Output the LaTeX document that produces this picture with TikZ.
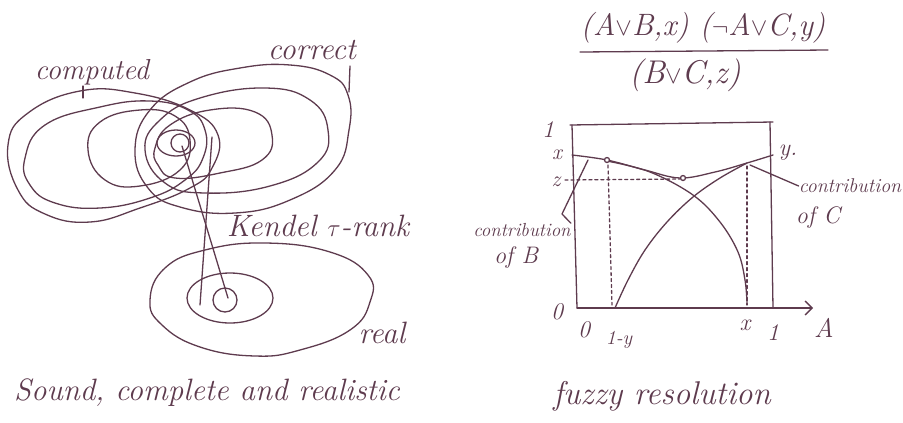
\documentclass[tikz,border=0pt]{standalone}
\usepackage{fontspec}
\usepackage{tikz}
\usetikzlibrary{calc,positioning,arrows.meta}
\definecolor{inkbrown}{HTML}{5E3B4E}

\tikzset{
  pen/.style={draw=inkbrown, line width=1.3bp, line cap=round, line join=round},
  hand/.style={text=inkbrown, inner sep=0pt, font=\itshape\fontsize{#1}{#1}\selectfont},
  hand/.default=22,
  blob/.style={pen, smooth cycle, tension=0.75},
}

\begin{document}
\begin{tikzpicture}[x=1bp, y=-1bp]
  \useasboundingbox (0,0) rectangle (903,422);

  % left sketch: computed / correct / real
  \draw[blob] plot coordinates {(8,145) (28,113) (80,91) (135,93) (190,110) (218,135)
    (212,168) (190,188) (140,208) (90,222) (45,214) (18,190)};
  \draw[blob] plot coordinates {(25,158) (45,125) (100,107) (150,101) (188,110) (205,130)
    (203,158) (185,180) (150,198) (100,208) (55,203) (30,185)};
  \draw[blob] plot coordinates {(88,150) (100,122) (140,110) (175,116) (190,140)
    (180,170) (140,186) (105,180)};
  \draw[blob] plot coordinates {(135,150) (150,110) (190,82) (240,68) (290,65) (330,75)
    (348,95) (349,130) (335,170) (290,200) (235,213) (180,207) (148,188)};
  \draw[blob] plot coordinates {(145,150) (160,120) (200,98) (265,88) (310,100) (328,130)
    (318,162) (270,186) (205,193) (165,183)};
  \draw[blob] plot coordinates {(155,148) (170,125) (210,110) (255,112) (272,135)
    (262,160) (220,173) (175,178) (158,165)};
  \draw[pen] (176,143) ellipse [x radius=19, y radius=13];
  \draw[pen] (180,143) circle [radius=9];

  \draw[blob] plot coordinates {(150,300) (165,268) (205,250) (265,243) (330,252) (368,275)
    (370,302) (350,330) (300,350) (255,356) (200,347) (162,325)};
  \draw[pen] (230,298) ellipse [x radius=43, y radius=25];
  \draw[pen] (225,300) circle [radius=12];

  \coordinate (topA) at (182,146);
  \coordinate (topB) at (212,137);
  \coordinate (realA) at (228,298);
  \coordinate (realB) at (200,305);
  \draw[pen] (topA) -- (realA);
  \draw[pen] (topB) -- (realB);

  \node[hand=29] (computed) at (92,72) {computed};
  \draw[pen] (83,86) -- (83,98);
  \node[hand=31] (correct) at (312,50) {correct};
  \draw[pen] (350,66) -- (349,92);
  \node[hand=31] (kendel) at (318,226) {Kendel $\tau$-rank};
  \node[hand=31] (real) at (382,333) {real};
  \node[hand=31] (sound) at (207,393) {Sound, complete and realistic};

  % right sketch: fuzzy resolution
  \node[hand=31] (clauses) at (703,28) {(A$\vee$B,x) ($\neg$A$\vee$C,y)};
  \draw[pen] (580,52) -- (828,50);
  \node[hand=33] (resolvent) at (685,75) {(B$\vee$C,z)};

  \coordinate (o) at (577,308);
  \draw[pen] (570,125) -- (773,122);
  \draw[pen] (572,125) -- (o);
  \draw[pen] (770,122) -- (773,308);
  \draw[pen, -{Straight Barb[length=7bp, width=14bp]}] (o) -- (813,308);

  \draw[pen, dashed] (565,180) -- (680,179);
  \draw[pen, dashed] (608,165) -- (612,305);
  \draw[pen, dashed] (747,166) -- (747,305);

  \draw[pen, smooth, tension=0.6] plot coordinates {(572,155) (607,160) (645,170)
    (680,178) (715,172) (747,163) (773,155)};
  \draw[pen, smooth, tension=0.6] plot coordinates {(607,161) (650,172) (693,195)
    (720,222) (738,252) (745,280) (747,303)};
  \draw[pen, smooth, tension=0.6] plot coordinates {(615,308) (628,280) (645,250)
    (667,222) (693,197) (720,178) (747,163)};
  \draw[pen, fill=white] (607,160) circle [radius=2.5];
  \draw[pen, fill=white] (683,178) circle [radius=2.5];

  \node[hand=24] (one) at (548,130) {1};
  \node[hand=22] (xl) at (557,155) {x};
  \node[hand=22] (zl) at (556,182) {z};
  \node[hand=24] (zero) at (557,312) {0};
  \node[hand=24] (zerob) at (584,330) {0};
  \node[hand=20] (omy) at (619,340) {1-y};
  \node[hand=24] (xb) at (745,325) {x};
  \node[hand=24] (oneb) at (773,333) {1};
  \node[hand=27] (axisA) at (824,328) {A};
  \node[hand=24] (yl) at (788,153) {y.};

  \node[hand=20] (contribC) at (850,186) {contribution};
  \node[hand=24] (ofC) at (818,218) {of C};
  \node[hand=19] (contribB) at (522,230) {contribution};
  \node[hand=24] (ofB) at (516,258) {of B};
  \coordinate (cpt) at (750,165);
  \coordinate (bpt) at (588,160);
  \draw[pen] (cpt) -- (contribC.west);
  \draw[pen] (bpt) -- (562,214) -- (contribB.north east);

  \node[hand=33] (fuzzy) at (662,396) {fuzzy resolution};
\end{tikzpicture}
\end{document}
